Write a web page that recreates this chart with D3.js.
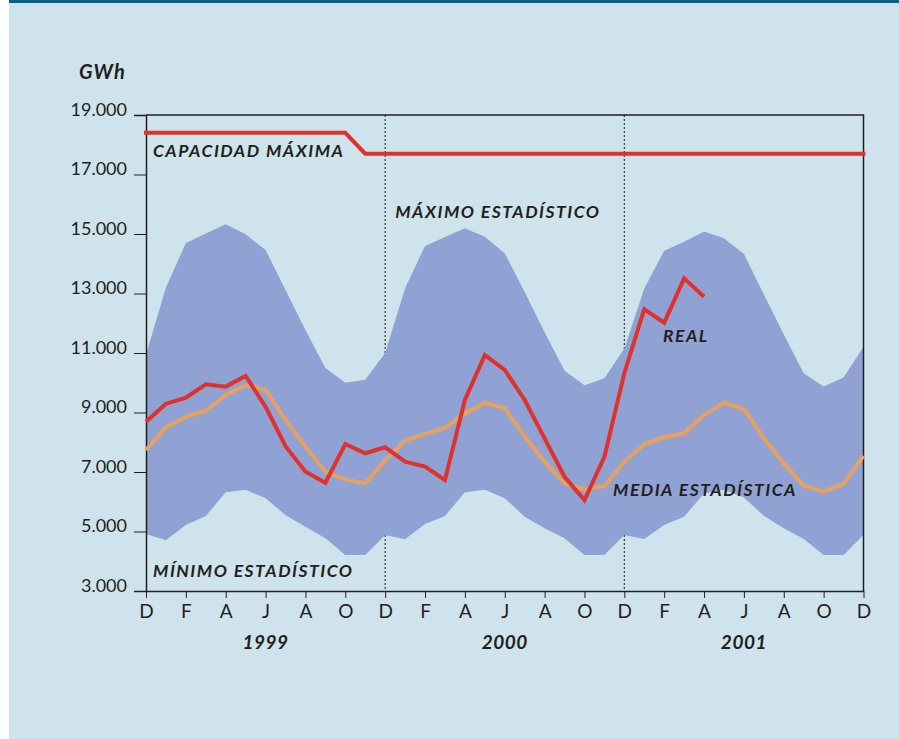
<!DOCTYPE html>
<html>
<head>
<meta charset="utf-8">
<script src="https://cdn.jsdelivr.net/npm/d3@7"></script>
<style>
  body { margin: 0; background: #fff; }
  svg { display: block; }
  text { font-family: Lato, "Open Sans", sans-serif; fill: #231f20; }
  .lbl { font-weight: 700; font-style: italic; font-size: 17.5px; letter-spacing: 1.5px; }
</style>
</head>
<body>
<div class="chart"></div>
<script>
// monthly data, Dec 1998 (index 0) .. Dec 2001 (index 36)
const monthLabels = ["D","F","A","J","A","O","D","F","A","J","A","O","D","F","A","J","A","O","D"];
const yearLabels = ["1999", "2000", "2001"];
const yearCenters = [6, 18, 30];
const yTicks = [3000, 5000, 7000, 9000, 11000, 13000, 15000, 17000, 19000];

const maxStat = [10950, 13200, 14700, 15020, 15330, 14990, 14460, 13120, 11770, 10500, 10000, 10100,
                 11000, 13180, 14600, 14900, 15190, 14910, 14350, 13050, 11700, 10400, 9920, 10150,
                 11150, 13170, 14440, 14740, 15080, 14860, 14330, 12970, 11620, 10320, 9870, 10180, 11210];
const minStat = [4920, 4710, 5220, 5520, 6320, 6400, 6120, 5550, 5160, 4770, 4210, 4210,
                 4880, 4740, 5250, 5520, 6320, 6400, 6120, 5500, 5110, 4770, 4210, 4210,
                 4880, 4750, 5220, 5500, 6280, 6400, 6140, 5530, 5110, 4750, 4210, 4210, 4880];
const media   = [7740, 8500, 8860, 9060, 9590, 9920, 9760, 8750, 7850, 7010, 6750, 6620,
                 7400, 8050, 8280, 8470, 8970, 9330, 9140, 8190, 7350, 6620, 6420, 6530,
                 7350, 7930, 8170, 8300, 8920, 9330, 9110, 8130, 7290, 6540, 6340, 6600, 7540];
const real    = [8690, 9290, 9500, 9950, 9870, 10230, 9190, 7870, 7010, 6640, 7940, 7630,
                 7830, 7350, 7180, 6730, 9420, 10930, 10430, 9420, 8130, 6840, 6060, 7510,
                 10320, 12470, 12020, 13510, 12890];
const capMonths = [0, 10, 11, 36];
const capValues = [18400, 18400, 17700, 17700];

const W = 899, H = 739;

const svg = d3.select(".chart").append("svg")
    .attr("width", W)
    .attr("height", H);

// page background + top bar
svg.append("rect").attr("x", 9).attr("y", 0).attr("width", W - 9).attr("height", H).attr("fill", "#cfe3ec");
svg.append("rect").attr("x", 9).attr("y", 0).attr("width", W - 9).attr("height", 3).attr("fill", "#0b5f86");

const x = d3.scaleLinear().domain([0, 36]).range([146, 863.5]);
const y = d3.scaleLinear().domain([3000, 19000]).range([591, 115]);

const fmt = d3.formatLocale({ decimal: ",", thousands: ".", grouping: [3], currency: ["", ""] }).format(",");

// dotted year separators (under the band)
svg.append("g").selectAll("line")
    .data([12, 24])
    .enter().append("line")
    .attr("x1", d => x(d)).attr("x2", d => x(d))
    .attr("y1", y(19000)).attr("y2", y(3000))
    .attr("stroke", "#3a3a3a")
    .attr("stroke-width", 1.2)
    .attr("stroke-dasharray", "2,2");

// statistical band
const band = d3.area()
    .x((d, i) => x(i))
    .y0((d, i) => y(minStat[i]))
    .y1(d => y(d));
svg.append("path")
    .datum(maxStat)
    .attr("d", band)
    .attr("fill", "#8fa2d3");

// frame top + right
svg.append("path")
    .attr("d", `M${x(0)},${y(19000)}H${x(36)}V${y(3000)}`)
    .attr("fill", "none")
    .attr("stroke", "#231f20")
    .attr("stroke-width", 1.5);

// y axis
const yAxis = svg.append("g")
    .attr("transform", `translate(${x(0)},0)`)
    .call(d3.axisLeft(y).tickValues(yTicks).tickFormat(fmt).tickSize(12).tickPadding(7));
yAxis.select(".domain").attr("stroke", "#231f20").attr("stroke-width", 1.5);
yAxis.selectAll(".tick line").attr("stroke", "#231f20");
yAxis.selectAll("text").attr("font-size", 18).attr("dy", "0.02em")
    .style("font-family", "Lato, sans-serif").attr("fill", "#231f20");

// x axis
const xAxis = svg.append("g")
    .attr("transform", `translate(0,${y(3000)})`)
    .call(d3.axisBottom(x).tickValues(d3.range(0, 37, 2))
        .tickFormat((d, i) => monthLabels[i]).tickSize(7).tickPadding(7).tickSizeOuter(0));
xAxis.select(".domain").attr("stroke", "#231f20").attr("stroke-width", 1.5);
xAxis.selectAll(".tick line").attr("stroke", "#231f20");
xAxis.selectAll("text").attr("font-size", 19)
    .style("font-family", "Lato, sans-serif").attr("fill", "#231f20");

// year labels
svg.append("g").selectAll("text")
    .data(yearLabels)
    .enter().append("text")
    .attr("class", "lbl")
    .attr("x", (d, i) => x(yearCenters[i]))
    .attr("y", 649)
    .attr("text-anchor", "middle")
    .style("font-size", "19px")
    .style("letter-spacing", "0.5px")
    .text(d => d);

// lines
const line = d3.line().x((d, i) => x(i)).y(d => y(d));

svg.append("path")
    .datum(media)
    .attr("d", line)
    .attr("fill", "none")
    .attr("stroke", "#e9a160")
    .attr("stroke-width", 4);

svg.append("path")
    .datum(real)
    .attr("d", line)
    .attr("fill", "none")
    .attr("stroke", "#e0322d")
    .attr("stroke-width", 4);

const capLine = d3.line().x((d, i) => x(capMonths[i])).y(d => y(d));
svg.append("path")
    .datum(capValues)
    .attr("d", capLine)
    .attr("fill", "none")
    .attr("stroke", "#e0322d")
    .attr("stroke-width", 4)
    .attr("stroke-linecap", "square");

// annotations
svg.append("text").attr("class", "lbl").attr("x", 79).attr("y", 79)
    .style("font-size", "20px").style("letter-spacing", "1px").text("GWh");
svg.append("text").attr("class", "lbl").attr("x", x(0) + 7).attr("y", 157).text("CAPACIDAD MÁXIMA");
svg.append("text").attr("class", "lbl").attr("x", x(12) + 10).attr("y", 218).text("MÁXIMO ESTADÍSTICO");
svg.append("text").attr("class", "lbl").attr("x", 663).attr("y", 342).text("REAL");
svg.append("text").attr("class", "lbl").attr("x", 613).attr("y", 496).text("MEDIA ESTADÍSTICA");
svg.append("text").attr("class", "lbl").attr("x", x(0) + 7).attr("y", 577).text("MÍNIMO ESTADÍSTICO");
</script>
</body>
</html>
